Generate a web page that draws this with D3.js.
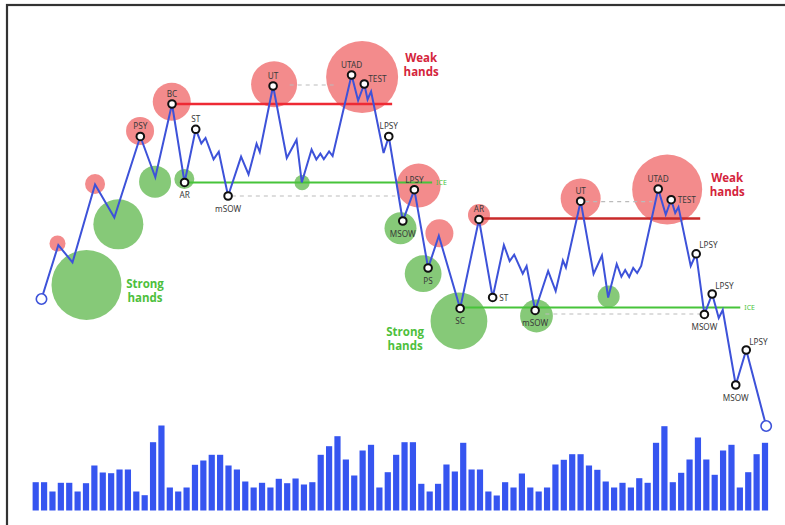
<!DOCTYPE html>
<html>
<head>
<meta charset="utf-8">
<script src="https://cdn.jsdelivr.net/npm/d3@7"></script>
<style>
  html, body { margin: 0; padding: 0; background: #fff; }
  svg { display: block; }
</style>
</head>
<body>
<svg id="chart" width="785" height="525"></svg>
<script>
// ---------------- DATA ----------------
const volumes = [28.3, 28.3, 19, 27.7, 27.7, 19, 27.3, 45, 38, 37.3,
  41, 41, 19, 15.3, 68.3, 85, 23, 19, 23, 45.7,
  50, 55.7, 55.7, 45, 41, 29, 23, 27.7, 23, 31.7,
  27.3, 32, 26, 28.3, 55.7, 64.3, 74.3, 51, 35, 60,
  65.7, 23, 38.3, 55.7, 68.3, 68.3, 26.7, 19, 26.7, 46,
  39, 67.7, 41, 41, 19, 15, 28.3, 23, 37, 23,
  19, 23, 46, 50.7, 56.3, 56.3, 45, 40.7, 29, 23,
  27.7, 23, 32.3, 27.7, 67.7, 84.3, 28.3, 37.7, 51, 73,
  51, 35.7, 60, 65.7, 23, 38.3, 56.3, 67.7];

const priceTime = [0.69, 2.70, 4.39, 7.08, 9.38, 12.48, 14.27, 16.26, 17.76, 19.09,
  19.76, 20.26, 21.22, 21.84, 22.95, 24.50, 25.39, 26.35, 26.73, 28.32,
  29.95, 31.12, 31.74, 32.91, 33.48, 33.96, 34.37, 35.00, 35.42, 37.68,
  38.46, 39.20, 39.59, 40.01, 41.50, 42.12, 43.79, 45.17, 46.81, 48.09,
  50.63, 52.88, 54.51, 55.85, 56.54, 57.08, 58.10, 58.56, 59.58, 61.13,
  62.03, 62.89, 63.25, 65.01, 66.55, 67.55, 68.29, 69.31, 69.87, 70.32,
  70.80, 71.28, 71.75, 72.23, 74.26, 75.16, 75.81, 76.29, 76.68, 78.14,
  78.79, 79.77, 80.70, 81.48, 81.96, 83.51, 84.76, 87.14];

const priceLevel = [35.25, 48.75, 44.38, 63.88, 55.63, 75.88, 65.68, 84.0, 64.38, 77.68,
  74.13, 75.5, 70.18, 72.08, 61.0, 70.83, 66.38, 74.08, 72.0, 88.5,
  70.5, 75.08, 64.38, 72.63, 70.13, 71.58, 70.18, 72.13, 71.0, 91.25,
  84.88, 89.0, 85.13, 87.13, 71.75, 75.88, 54.75, 62.58, 43.0, 51.05,
  32.88, 55.13, 35.63, 48.75, 44.75, 46.33, 41.58, 43.5, 32.38, 42.25,
  37.25, 44.88, 43.13, 59.7, 41.5, 46.13, 35.63, 44.0, 40.83, 42.5,
  40.75, 43.0, 41.75, 43.5, 62.75, 56.38, 60.08, 56.75, 58.25, 43.5,
  46.55, 31.38, 36.5, 30.5, 32.5, 13.75, 22.5, 3.5];

// events: index into the price path and label
const eventIndex  = [5, 7, 8, 9, 14, 19, 29, 31, 35, 36, 37, 38, 40, 41, 42, 48, 53, 64, 66, 70, 71, 72, 75, 76];
const eventLabels = ["PSY", "BC", "AR", "ST", "mSOW", "UT", "UTAD", "TEST", "LPSY", "MSOW", "LPSY", "PS", "SC", "AR", "ST", "mSOW", "UT", "UTAD", "TEST", "LPSY", "MSOW", "LPSY", "MSOW", "LPSY"];

// supply (weak hands) bubbles
const weakTime   = [2.60, 7.08, 12.45, 16.23, 28.44, 38.94, 45.68, 48.16, 52.88, 65.01, 75.33];
const weakLevel  = [49.13, 64.0, 77.25, 84.58, 88.93, 90.75, 63.63, 51.68, 56.25, 60.38, 62.63];
const weakSize   = [2.0, 2.5, 3.5, 4.75, 5.75, 9.0, 5.5, 3.5, 2.75, 5.0, 8.75];

// demand (strong hands) bubbles
const strongTime  = [6.06, 9.86, 14.24, 17.73, 31.78, 43.52, 46.22, 50.49, 59.74, 68.35];
const strongLevel = [38.75, 53.93, 64.58, 65.25, 64.33, 52.93, 41.58, 29.75, 31.0, 35.88];
const strongSize  = [8.75, 6.25, 4.0, 2.5, 1.9, 4.0, 4.6, 7.1, 4.1, 2.75];

// horizontal levels: [startTime, endTime, price]
const resistanceLevels = [[16.26, 42.52, 84.0], [52.88, 79.27, 55.38]];
const supportLevels    = [[17.76, 47.29, 64.38], [50.63, 84.05, 33.13]];
const dashedLevels     = [[23.4, 42.9, 61.0], [30.3, 35.96, 88.75], [60.8, 79.27, 31.5], [65.55, 73.54, 59.58]];
const iceLabel = "ICE";

// hands annotations
const weakHandsText   = ["Weak", "hands"];
const strongHandsText = ["Strong", "hands"];
const weakHandsAt   = [[45.98, 95.75], [82.49, 65.63]];
const strongHandsAt = [[13.04, 39.25], [44.07, 27.25]];

// ---------------- STYLE / LAYOUT ----------------
const placement = {
  "top":       { dx: 0,   dy: -10.5, anchor: "middle" },
  "bottom":    { dx: 0,   dy: 12.5,  anchor: "middle" },
  "right":     { dx: 6.5, dy: 0,     anchor: "start" },
  "rightUp":   { dx: 4,   dy: -6,    anchor: "start" },
  "topRight":  { dx: 3,   dy: -9,    anchor: "start" }
};
const eventPlacement = ["top", "top", "bottom", "top", "bottom", "top", "top", "rightUp", "top", "bottom", "top", "bottom", "bottom", "top", "right", "bottom", "top", "top", "right", "topRight", "bottom", "topRight", "bottom", "topRight"];

const C = {
  line: "#3d52d9",
  bar: "#3655f0",
  weak: "#f38b8c",
  strong: "#86c978",
  red1: "#ee2a34",
  red2: "#c92a2a",
  green: "#47c43a",
  dash: "#bbbbbb",
  weakText: "#d4243b",
  strongText: "#4dc03c",
  label: "#3a3a3a"
};

// ---------------- SCALES ----------------
const svg = d3.select("#chart");
const x = d3.scaleLinear().domain([0, volumes.length - 1]).range([35.7, 765]);
const y = d3.scaleLinear().domain([0, 100]).range([440, 40]);
const yVol = d3.scaleLinear().domain([0, 85]).range([510.5, 425.5]);
const r = d3.scaleLinear().domain([0, 10]).range([0, 40]);
const barW = 6.2;

// frame
svg.append("rect").attr("x", 7).attr("y", 5).attr("width", 800).attr("height", 600)
  .attr("fill", "none").attr("stroke", "#333").attr("stroke-width", 2.2);

// volume bars
svg.append("g").selectAll("rect").data(volumes).join("rect")
  .attr("x", (d, i) => x(i) - barW / 2)
  .attr("y", d => yVol(d))
  .attr("width", barW)
  .attr("height", d => yVol(0) - yVol(d))
  .attr("fill", C.bar);

// bubbles
const bubbles = svg.append("g");
bubbles.selectAll("circle.weak").data(weakTime).join("circle").attr("class", "weak")
  .attr("cx", (d, i) => x(d)).attr("cy", (d, i) => y(weakLevel[i])).attr("r", (d, i) => r(weakSize[i]))
  .attr("fill", C.weak);
bubbles.selectAll("circle.strong").data(strongTime).join("circle").attr("class", "strong")
  .attr("cx", (d, i) => x(d)).attr("cy", (d, i) => y(strongLevel[i])).attr("r", (d, i) => r(strongSize[i]))
  .attr("fill", C.strong);

// levels
const lv = svg.append("g");
lv.selectAll("line.dash").data(dashedLevels).join("line").attr("class", "dash")
  .attr("x1", d => x(d[0])).attr("x2", d => x(d[1])).attr("y1", d => y(d[2])).attr("y2", d => y(d[2]))
  .attr("stroke", C.dash).attr("stroke-width", 1.2).attr("stroke-dasharray", "4,4");
lv.selectAll("line.res").data(resistanceLevels).join("line").attr("class", "res")
  .attr("x1", d => x(d[0])).attr("x2", d => x(d[1])).attr("y1", d => y(d[2])).attr("y2", d => y(d[2]))
  .attr("stroke", (d, i) => i === 0 ? C.red1 : C.red2).attr("stroke-width", 2.4);
lv.selectAll("line.sup").data(supportLevels).join("line").attr("class", "sup")
  .attr("x1", d => x(d[0])).attr("x2", d => x(d[1])).attr("y1", d => y(d[2])).attr("y2", d => y(d[2]))
  .attr("stroke", C.green).attr("stroke-width", 2.2);
lv.selectAll("text.ice").data(supportLevels).join("text").attr("class", "ice")
  .attr("x", d => x(d[1]) + 4).attr("y", d => y(d[2]))
  .attr("dominant-baseline", "central").attr("font-family", "Noto Sans, sans-serif")
  .attr("font-size", 7).attr("fill", C.green).text(iceLabel);

// price path
const pts = priceTime.map((t, i) => [x(t), y(priceLevel[i])]);
svg.append("path").attr("d", d3.line()(pts))
  .attr("fill", "none").attr("stroke", C.line).attr("stroke-width", 2).attr("stroke-linejoin", "miter");

// start / end markers
svg.append("g").selectAll("circle").data([0, pts.length - 1]).join("circle")
  .attr("cx", d => pts[d][0]).attr("cy", d => pts[d][1]).attr("r", 5.2)
  .attr("fill", "#fff").attr("stroke", C.line).attr("stroke-width", 1.6);

// event markers
svg.append("g").selectAll("circle").data(eventIndex).join("circle")
  .attr("cx", d => pts[d][0]).attr("cy", d => pts[d][1]).attr("r", 3.8)
  .attr("fill", "#fff").attr("stroke", "#111").attr("stroke-width", 2);

// event labels
svg.append("g").selectAll("text").data(eventIndex).join("text")
  .attr("x", (d, i) => pts[d][0] + placement[eventPlacement[i]].dx)
  .attr("y", (d, i) => pts[d][1] + placement[eventPlacement[i]].dy)
  .attr("text-anchor", (d, i) => placement[eventPlacement[i]].anchor)
  .attr("dominant-baseline", "central")
  .attr("font-family", "Noto Sans, sans-serif").attr("font-size", 8.2)
  .attr("fill", C.label)
  .text((d, i) => eventLabels[i]);

// hands annotations
function hands(at, lines, color) {
  const g = svg.append("g");
  at.forEach(p => {
    lines.forEach((t, j) => {
      g.append("text")
        .attr("x", x(p[0])).attr("y", y(p[1]) + j * 14.5)
        .attr("text-anchor", "middle").attr("dominant-baseline", "central")
        .attr("font-family", "Open Sans, sans-serif").attr("font-weight", "bold")
        .attr("font-size", 11.5).attr("fill", color).text(t);
    });
  });
}
hands(weakHandsAt, weakHandsText, C.weakText);
hands(strongHandsAt, strongHandsText, C.strongText);
</script>
</body>
</html>
